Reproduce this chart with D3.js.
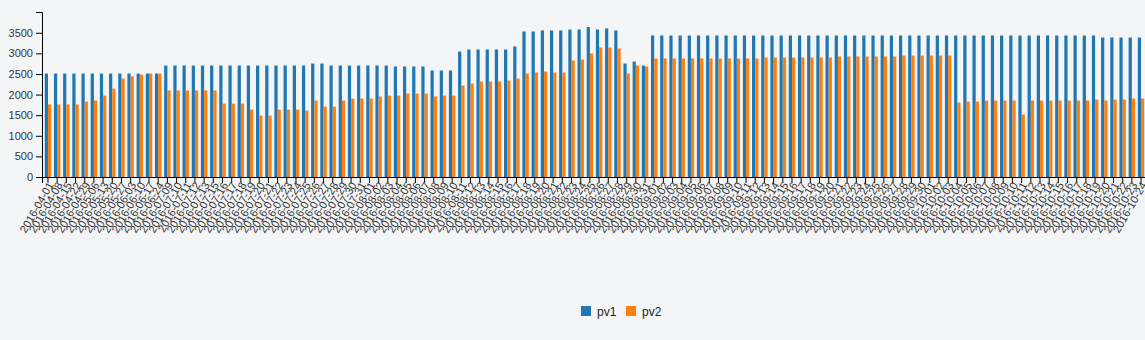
<!DOCTYPE html>
<html><head><meta charset="utf-8">
<script src="https://cdn.jsdelivr.net/npm/d3@7"></script>
<style>
html,body{margin:0;padding:0;background:#f4f5f7;overflow:hidden}
svg text{font-family:"Liberation Sans",Arial,sans-serif}
</style></head><body>
<svg id="c" width="1145" height="340"></svg>
<script>
const dates=[
"2016-04-01","2016-04-08","2016-04-15","2016-04-22","2016-04-29","2016-05-06","2016-05-13","2016-05-20","2016-05-27","2016-06-03","2016-06-10","2016-06-17","2016-06-24",
"2016-07-09","2016-07-10","2016-07-11","2016-07-12","2016-07-13","2016-07-15","2016-07-16","2016-07-17","2016-07-18","2016-07-19","2016-07-20","2016-07-21","2016-07-22","2016-07-23","2016-07-24","2016-07-25","2016-07-26","2016-07-27","2016-07-28","2016-07-29","2016-07-30","2016-07-31",
"2016-08-01","2016-08-02","2016-08-03","2016-08-04","2016-08-05","2016-08-06","2016-08-07","2016-08-08","2016-08-09","2016-08-10","2016-08-11","2016-08-12","2016-08-13","2016-08-14","2016-08-15","2016-08-16","2016-08-17","2016-08-18","2016-08-19","2016-08-20","2016-08-21","2016-08-22","2016-08-23","2016-08-24","2016-08-25","2016-08-26","2016-08-27","2016-08-28","2016-08-29","2016-08-30","2016-08-31",
"2016-09-01","2016-09-02","2016-09-03","2016-09-04","2016-09-05","2016-09-06","2016-09-07","2016-09-08","2016-09-09","2016-09-10","2016-09-11","2016-09-12","2016-09-13","2016-09-14","2016-09-15","2016-09-16","2016-09-17","2016-09-18","2016-09-19","2016-09-20","2016-09-21","2016-09-22","2016-09-23","2016-09-24","2016-09-25","2016-09-26","2016-09-27","2016-09-28","2016-09-29","2016-09-30",
"2016-10-01","2016-10-02","2016-10-03","2016-10-04","2016-10-05","2016-10-06","2016-10-07","2016-10-08","2016-10-09","2016-10-10","2016-10-11","2016-10-12","2016-10-13","2016-10-14","2016-10-15","2016-10-16","2016-10-17","2016-10-18","2016-10-19","2016-10-20","2016-10-21","2016-10-22","2016-10-23","2016-10-24"
];
const pv1=[
2510,2510,2510,2510,2510,2510,2510,2510,2510,2510,2510,2510,2510,
2705,2705,2705,2705,2705,2705,2705,2705,2705,2705,2705,2705,2705,2705,2705,2705,
2754,2754,
2705,2705,2705,2705,2705,2705,2705,
2681,2681,2681,2681,
2584,2584,2584,
3046,3094,3094,3094,3094,3094,3167,
3532,3532,3556,3556,3556,3580,3580,3640,3580,3605,3556,
2754,2803,2705,
3434,3434,3434,3434,3434,3434,3434,3434,3434,3434,3434,3434,3434,3434,3434,3434,3434,3434,3434,3434,3434,3434,3434,3434,3434,
3434,3434,3434,3434,3434,3434,3434,3434,3434,3434,3434,3434,3434,3434,3434,3434,3434,3434,3434,3434,3434,3434,3434,3434,
3386,3386,3386,3386,3386
];
const pv2=[
1760,1760,1760,1760,1830,1855,1975,2145,2390,2440,2485,2510,2510,
2100,2100,2100,2100,2100,2100,
1780,1780,1780,
1636,1490,1490,1636,1636,1636,1612,
1855,1709,1709,1855,1904,1904,1904,1952,1976,1976,2025,2025,2025,1952,1976,1976,
2219,2268,2317,2317,2317,2341,2390,2511,2535,2560,2535,2535,
2827,2851,2997,3143,3143,3119,2511,2705,2681,
2876,2876,2876,2876,2876,2876,2876,2876,2876,2876,2876,2876,
2900,2900,2900,2900,2900,2900,2900,2900,
2924,2924,2924,2924,2924,2924,2924,
2948,2948,2948,2948,2948,2948,
1806,1831,1831,1855,1855,1855,1855,1515,
1855,1855,1855,1855,1855,1855,1855,1879,1855,1879,1879,1904,1904
];
const seriesNames=["pv1","pv2"];
const colors=["#1f77b4","#ff7f0e"];
const yTicks=[0,500,1000,1500,2000,2500,3000,3500];

const svg=d3.select("#c");
const x0=d3.scaleBand().domain(dates).range([42,1147]).padding(0.3);
const x1=d3.scaleBand().domain(seriesNames).range([0,x0.bandwidth()]);
const y=d3.scaleLinear().domain([0,d3.max(pv1)*1.1]).range([177,12]);
const color=d3.scaleOrdinal().domain(seriesNames).range(colors);

const rows=dates.map((d,i)=>({date:d,values:[{k:"pv1",v:pv1[i]},{k:"pv2",v:pv2[i]}]}));

const g=svg.append("g").selectAll("g").data(rows).join("g")
  .attr("transform",d=>`translate(${x0(d.date)},0)`);
g.selectAll("rect").data(d=>d.values).join("rect")
  .attr("x",d=>x1(d.k)).attr("width",x1.bandwidth())
  .attr("y",d=>y(d.v)).attr("height",d=>y(0)-y(d.v))
  .attr("fill",d=>color(d.k));

const ya=svg.append("g").attr("transform","translate(42,0)")
  .call(d3.axisLeft(y).tickValues(yTicks).tickFormat(d3.format("d")));
ya.selectAll("text").style("font-size","11px").attr("fill","#333");

const xa=svg.append("g").attr("transform","translate(0,177)")
  .call(d3.axisBottom(x0));
xa.selectAll("text").style("font-size","11px").attr("fill","#333")
  .style("text-anchor","end")
  .attr("x",0).attr("y",0).attr("dx",0).attr("dy",0)
  .attr("transform","translate(6,8) rotate(-60)");

const lg=svg.append("g").attr("transform","translate(581,306)");
const li=lg.selectAll("g").data(seriesNames).join("g")
  .attr("transform",(d,i)=>`translate(${i*45},0)`);
li.append("rect").attr("width",10).attr("height",10).attr("fill",d=>color(d));
li.append("text").attr("x",16).attr("y",9.5).text(d=>d)
  .style("font-size","12px").attr("fill","#222");
</script>
</body></html>
